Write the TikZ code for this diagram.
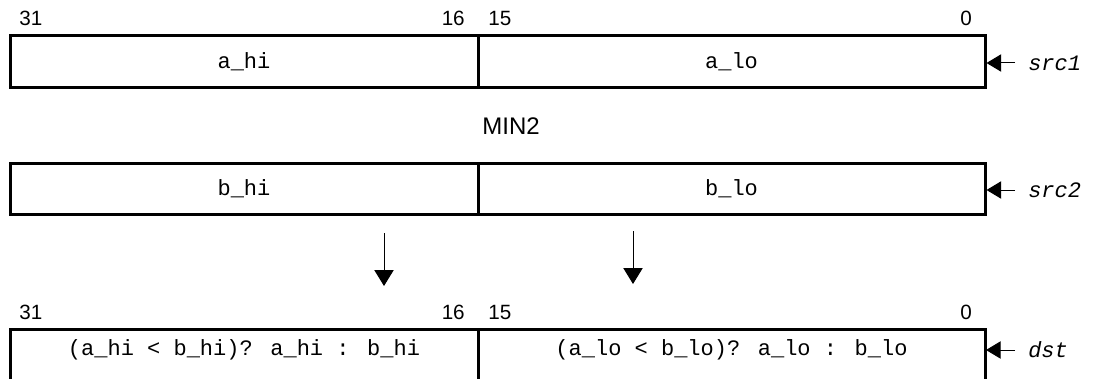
\documentclass[tikz,border=0pt]{standalone}
\usepackage{fontspec}
\setmainfont{Liberation Sans}
\newfontfamily\monof{Liberation Mono}
\usetikzlibrary{arrows.meta}
\begin{document}
\begin{tikzpicture}[x=0.75pt,y=-0.75pt,
  cellhi/.style={draw,line width=2.25pt,minimum width=351pt,minimum height=38.25pt,inner sep=0pt,font=\monof\fontsize{16.5pt}{18pt}\selectfont},
  celllo/.style={draw,line width=2.25pt,minimum width=380.25pt,minimum height=38.25pt,inner sep=0pt,font=\monof\fontsize{16.5pt}{18pt}\selectfont},
  celltext/.style={inner sep=0pt,font=\monof\fontsize{16.5pt}{18pt}\selectfont},
  bitlbl/.style={inner sep=0pt,font=\fontsize{15.5pt}{17pt}\selectfont},
  reglbl/.style={inner sep=0pt,anchor=west,font=\monof\itshape\fontsize{16.5pt}{18pt}\selectfont},
  inarrow/.style={-{Triangle[length=11pt,width=13pt]},line width=0.75pt},
  downarrow/.style={-{Triangle[length=12pt,width=14.5pt]},line width=0.75pt}]
\useasboundingbox (0,0) rectangle (1119,378);
% row 1
\node[bitlbl,anchor=west] (b31a) at (19,18) {31};
\node[bitlbl,anchor=east] (b16a) at (465,18) {16};
\node[bitlbl,anchor=west] (b15a) at (488,18) {15};
\node[bitlbl,anchor=east] (b0a) at (972,18) {0};
\node[cellhi] (ahi) at (244,61.5) {a\_hi};
\node[celllo] (alo) at (731.5,61.5) {a\_lo};
\node[reglbl] (src1) at (1028,63) {src1};
\coordinate (s1) at (1015,63);
\draw[inarrow] (s1) -- (alo.east |- s1);
% MIN2
\node[inner sep=0pt,font=\fontsize{18pt}{20pt}\selectfont] (title) at (511,126) {MIN2};
% row 2
\node[cellhi] (bhi) at (244,188.5) {b\_hi};
\node[celllo] (blo) at (731.5,188.5) {b\_lo};
\node[reglbl] (src2) at (1028,190) {src2};
\coordinate (s2) at (1015,190);
\draw[inarrow] (s2) -- (blo.east |- s2);
% down arrows
\coordinate (d1s) at (384,233);
\coordinate (d1e) at (384,286);
\coordinate (d2s) at (633,231);
\coordinate (d2e) at (633,284);
\draw[downarrow] (d1s) -- (d1e);
\draw[downarrow] (d2s) -- (d2e);
% row 3
\node[bitlbl,anchor=west] (b31b) at (19,312) {31};
\node[bitlbl,anchor=east] (b16b) at (465,312) {16};
\node[bitlbl,anchor=west] (b15b) at (488,312) {15};
\node[bitlbl,anchor=east] (b0b) at (972,312) {0};
\draw[line width=2.25pt] (10,385) -- (10,329) -- (985,329) -- (985,385);
\draw[line width=2.25pt] (478,329) -- (478,385);
\node[celltext] (dhi) at (244,350) {(a\_hi < b\_hi)? a\_hi : b\_hi};
\node[celltext] (dlo) at (731.5,350) {(a\_lo < b\_lo)? a\_lo : b\_lo};
\node[reglbl] (dst) at (1028,350) {dst};
\coordinate (s3) at (1015,350);
\coordinate (dr) at (985,350);
\draw[inarrow] (s3) -- ([xshift=0.75pt]dr);
\end{tikzpicture}
\end{document}
